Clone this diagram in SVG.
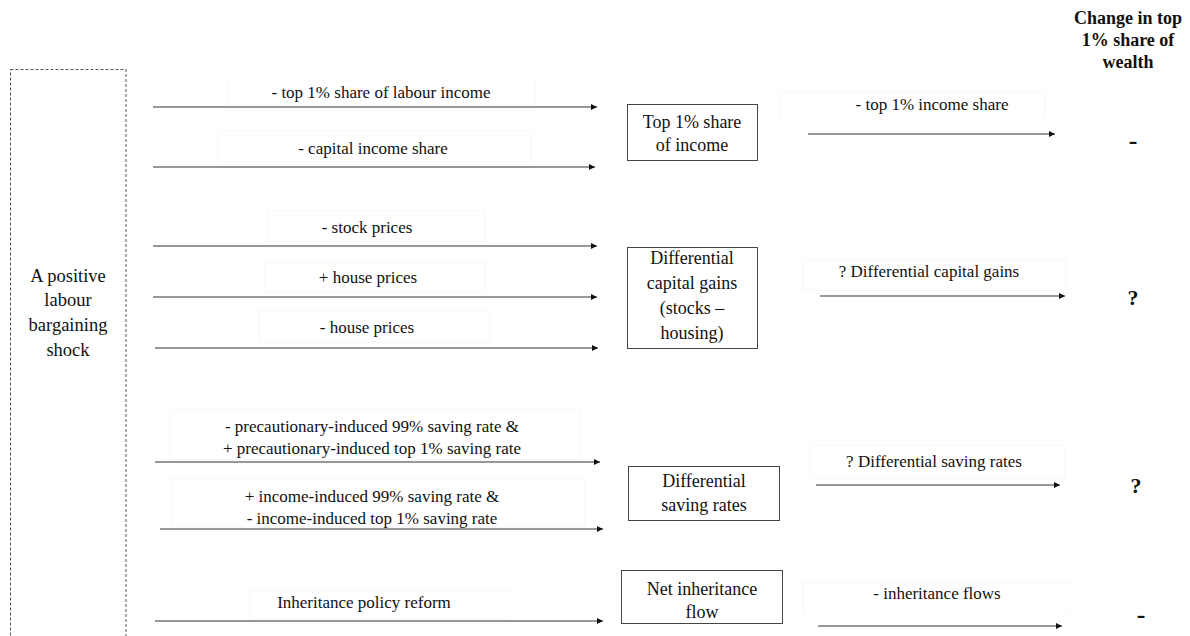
<svg xmlns="http://www.w3.org/2000/svg" width="1190" height="636" viewBox="0 0 1190 636">
<style>
text{font-family:"Liberation Serif","Times New Roman",serif;fill:#111;text-anchor:middle;dominant-baseline:central}
.lbl{font-size:17px}
.nd{font-size:18px}
.sh{font-size:18.5px}
.res{font-size:22px;font-weight:bold}
.dash{font-size:26px;font-weight:bold}
.ttl{font-size:18px;font-weight:bold}
.nbox{fill:#fff;stroke:#444;stroke-width:1}
.lbox{fill:none;stroke:#f7f7f7;stroke-width:1}
.arr{stroke:#333;stroke-width:1.1;fill:none;marker-end:url(#ah)}
</style>
<defs>
<marker id="ah" viewBox="0 0 10 10" refX="10" refY="5" markerWidth="8" markerHeight="6" markerUnits="userSpaceOnUse" orient="auto">
<path d="M0,0 L10,5 L0,10 Z" fill="#111"/>
</marker>
</defs>
<rect width="1190" height="636" fill="#fff"/>

<g id="title">
<text class="ttl" x="1128" y="18">Change in top</text>
<text class="ttl" x="1128" y="40">1% share of</text>
<text class="ttl" x="1128" y="62">wealth</text>
</g>

<g id="shock">
<rect x="10.5" y="69.5" width="115.5" height="580" fill="none" stroke="#555" stroke-width="1" stroke-dasharray="3,2"/>
<text class="sh" x="68" y="276">A positive</text>
<text class="sh" x="68" y="300">labour</text>
<text class="sh" x="68" y="325">bargaining</text>
<text class="sh" x="68" y="350">shock</text>
</g>

<g id="node-income">
<rect class="nbox" x="627.5" y="104.5" width="130" height="56"/>
<text class="nd" x="692" y="122">Top 1% share</text>
<text class="nd" x="692" y="145">of income</text>
</g>

<g id="node-capgains">
<rect class="nbox" x="627.5" y="247.5" width="130" height="101"/>
<text class="nd" x="692" y="258">Differential</text>
<text class="nd" x="692" y="283">capital gains</text>
<text class="nd" x="692" y="308">(stocks –</text>
<text class="nd" x="692" y="333">housing)</text>
</g>

<g id="node-saving">
<rect class="nbox" x="628.5" y="466.5" width="151" height="54"/>
<text class="nd" x="704" y="481">Differential</text>
<text class="nd" x="704" y="505">saving rates</text>
</g>

<g id="node-inherit">
<rect class="nbox" x="621.5" y="570.5" width="161" height="53"/>
<text class="nd" x="702" y="589">Net inheritance</text>
<text class="nd" x="702" y="612">flow</text>
</g>

<g id="results">
<text class="dash" x="1133" y="140">-</text>
<text class="res" x="1133" y="297">?</text>
<text class="res" x="1136" y="485">?</text>
<text class="dash" x="1141" y="614">-</text>
</g>

<g id="connectors">
<rect class="lbox" x="228" y="80" width="307" height="25"/>
<text class="lbl" x="381" y="92">- top 1% share of labour income</text>
<line class="arr" x1="153" y1="107" x2="597" y2="107"/>

<rect class="lbox" x="218" y="131" width="313" height="31"/>
<text class="lbl" x="373" y="148">- capital income share</text>
<line class="arr" x1="153" y1="167" x2="595" y2="167"/>

<rect class="lbox" x="268" y="211" width="217" height="31"/>
<text class="lbl" x="367" y="227">- stock prices</text>
<line class="arr" x1="153" y1="246" x2="597" y2="246"/>

<rect class="lbox" x="265" y="262" width="220" height="30"/>
<text class="lbl" x="368" y="277">+ house prices</text>
<line class="arr" x1="153" y1="297" x2="597" y2="297"/>

<rect class="lbox" x="259" y="311" width="231" height="31"/>
<text class="lbl" x="367" y="327">- house prices</text>
<line class="arr" x1="155" y1="348" x2="598" y2="348"/>

<rect class="lbox" x="170" y="410" width="410" height="50"/>
<text class="lbl" x="372" y="426">- precautionary-induced 99% saving rate &amp;</text>
<text class="lbl" x="372" y="448">+ precautionary-induced top 1% saving rate</text>
<line class="arr" x1="155" y1="462" x2="600" y2="462"/>

<rect class="lbox" x="172" y="479" width="413" height="48"/>
<text class="lbl" x="372" y="496">+ income-induced 99% saving rate &amp;</text>
<text class="lbl" x="372" y="518">- income-induced top 1% saving rate</text>
<line class="arr" x1="160" y1="529" x2="603" y2="529"/>

<rect class="lbox" x="250" y="590" width="262" height="28"/>
<text class="lbl" x="364" y="602">Inheritance policy reform</text>
<line class="arr" x1="155" y1="621" x2="603" y2="621"/>

<rect class="lbox" x="780" y="92" width="265" height="28"/>
<text class="lbl" x="932" y="104">- top 1% income share</text>
<line class="arr" x1="808" y1="134" x2="1055" y2="134"/>

<rect class="lbox" x="803" y="260" width="263" height="30"/>
<text class="lbl" x="929" y="271">? Differential capital gains</text>
<line class="arr" x1="820" y1="296" x2="1065" y2="296"/>

<rect class="lbox" x="810" y="445" width="255" height="33"/>
<text class="lbl" x="934" y="461">? Differential saving rates</text>
<line class="arr" x1="816" y1="485" x2="1060" y2="485"/>

<rect class="lbox" x="803" y="582" width="269" height="34"/>
<text class="lbl" x="937" y="593">- inheritance flows</text>
<line class="arr" x1="818" y1="626" x2="1062" y2="626"/>
</g>
</svg>
